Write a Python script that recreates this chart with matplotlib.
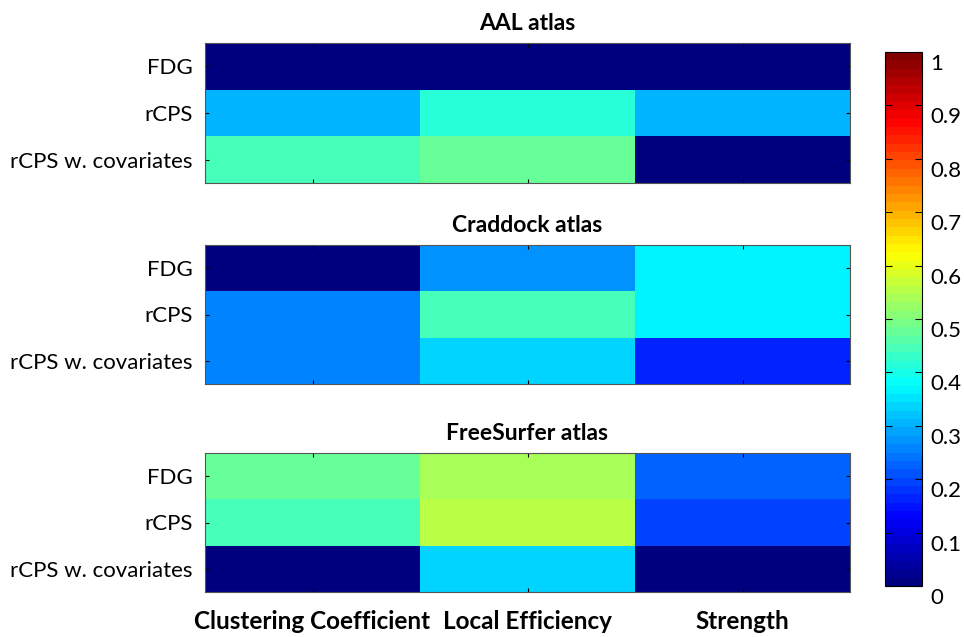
import numpy as np
import matplotlib
matplotlib.use('Agg')
import matplotlib.pyplot as plt
import matplotlib.transforms as mtrans
from matplotlib.colors import ListedColormap

#data
rows = ['FDG', 'rCPS', 'rCPS w. covariates']
cols = ['Clustering Coefficient', 'Local Efficiency', 'Strength']
titles = ['AAL atlas', 'Craddock atlas', 'FreeSurfer atlas']

aal = np.array([[0.00, 0.00, 0.00],
                [0.30, 0.41, 0.30],
                [0.44, 0.48, 0.00]])
craddock = np.array([[0.00, 0.275, 0.37],
                     [0.257, 0.44, 0.37],
                     [0.257, 0.335, 0.165]])
freesurfer = np.array([[0.48, 0.545, 0.22],
                       [0.44, 0.56, 0.20],
                       [0.00, 0.335, 0.00]])
cbar_ticks = [0, 0.1, 0.2, 0.3, 0.4, 0.5, 0.6, 0.7, 0.8, 0.9, 1]
cbar_labels = ['0', '0.1', '0.2', '0.3', '0.4', '0.5', '0.6', '0.7', '0.8', '0.9', '1']

plt.rcParams['font.family'] = ['Lato', 'DejaVu Sans']

# matlab style jet, 64 steps
x = np.linspace(0, 1, 64)
jet_r = np.clip(1.5 - np.abs(4 * x - 3), 0, 1)
jet_g = np.clip(1.5 - np.abs(4 * x - 2), 0, 1)
jet_b = np.clip(1.5 - np.abs(4 * x - 1), 0, 1)
cmap = ListedColormap(np.column_stack([jet_r, jet_g, jet_b]))

fig = plt.figure(figsize=(9.64, 6.37), dpi=100)
W, H = 964.0, 637.0
# axes boxes in pixels (left, top, right, bottom)
boxes = [(205, 43, 850, 183), (205, 245, 850, 384), (205, 453, 850, 592)]
datas = [aal, craddock, freesurfer]

for k in range(3):
    l, t, r, b = boxes[k]
    ax = fig.add_axes([l / W, 1 - b / H, (r - l) / W, (b - t) / H])
    im = ax.imshow(datas[k], cmap=cmap, vmin=0, vmax=1, aspect='auto',
                   interpolation='nearest')
    ax.set_title(titles[k], fontsize=16.5, fontweight='bold', pad=9)
    ax.set_yticks(range(3))
    ax.set_yticklabels(rows, fontsize=16)
    ax.set_xticks(range(3))
    if k == 2:
        ax.set_xticklabels(cols, fontsize=17.5, fontweight='bold')
    else:
        ax.set_xticklabels([])
    ax.tick_params(direction='in', length=3, width=0.8, top=True, right=True,
                   pad=9)
    ax.tick_params(axis='x', pad=13)
    for s in ax.spines.values():
        s.set_linewidth(0.8)
        s.set_color('#555555')

cax = fig.add_axes([885 / W, 1 - 586 / H, 37 / W, (586 - 52) / H])
cb = fig.colorbar(im, cax=cax, ticks=cbar_ticks)
cb.ax.set_yticklabels(cbar_labels, fontsize=16)
cb.ax.tick_params(direction='in', length=5, width=0.8, left=True, right=True,
                  pad=6)
cb.outline.set_linewidth(0.8)
# labels sit a little below their ticks in the original
shift = mtrans.ScaledTranslation(0, -10 / 100.0, fig.dpi_scale_trans)
for lab in cb.ax.get_yticklabels():
    lab.set_transform(lab.get_transform() + shift)

plt.savefig('out.png', dpi=100)
